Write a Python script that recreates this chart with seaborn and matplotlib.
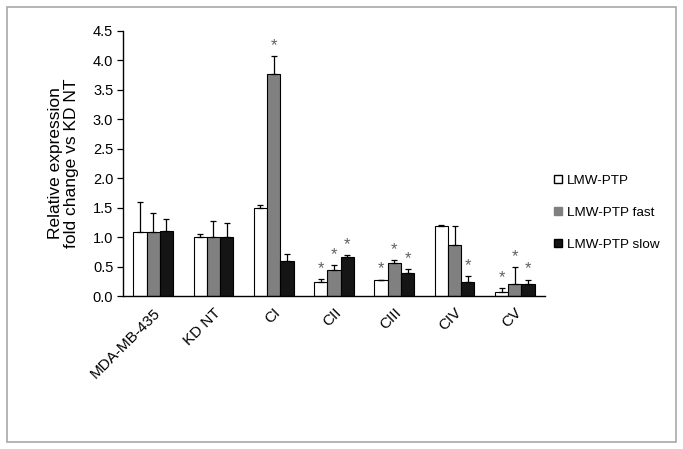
import numpy as np
import pandas as pd
import matplotlib
matplotlib.use('Agg')
import matplotlib.pyplot as plt
import seaborn as sns
from matplotlib.patches import Rectangle
from matplotlib.lines import Line2D

groups = ['MDA-MB-435', 'KD NT', 'CI', 'CII', 'CIII', 'CIV', 'CV']
series = ['LMW-PTP', 'LMW-PTP fast', 'LMW-PTP slow']

vals_wt = [1.09, 1.00, 1.49, 0.23, 0.27, 1.19, 0.06]
vals_fast = [1.09, 1.00, 3.77, 0.44, 0.56, 0.86, 0.20]
vals_slow = [1.10, 1.00, 0.60, 0.66, 0.39, 0.24, 0.21]

err_wt = [0.51, 0.06, 0.06, 0.06, 0.01, 0.01, 0.07]
err_fast = [0.32, 0.27, 0.30, 0.08, 0.05, 0.33, 0.29]
err_slow = [0.20, 0.24, 0.11, 0.04, 0.07, 0.10, 0.07]

star_wt = [0, 0, 0, 1, 1, 0, 1]
star_fast = [0, 0, 1, 1, 1, 0, 1]
star_slow = [0, 0, 0, 1, 1, 1, 1]

df = pd.DataFrame({
    'group': groups * 3,
    'series': [s for s in series for _ in groups],
    'value': vals_wt + vals_fast + vals_slow,
    'err': err_wt + err_fast + err_slow,
    'star': star_wt + star_fast + star_slow,
})

colors = ['#ffffff', '#808080', '#151515']

plt.rcParams['font.family'] = ['Liberation Sans', 'DejaVu Sans']
fig = plt.figure(figsize=(6.83, 4.49), dpi=100)
ax = fig.add_axes([123/683, 1 - 296/449, 422/683, 265/449])

sns.barplot(ax=ax, data=df, x='group', y='value', hue='series', palette=colors,
            errorbar=None, width=0.66, edgecolor='black', linewidth=0.8, legend=False)

# error bars (upper only) and significance stars
for cont, s in zip(ax.containers, series):
    sub = df[df['series'] == s]
    for bar, v, e, st in zip(cont, sub['value'], sub['err'], sub['star']):
        xc = bar.get_x() + bar.get_width() / 2
        ax.errorbar(xc, v, yerr=[[0], [e]], fmt='none', ecolor='black',
                    elinewidth=0.9, capsize=2.5, capthick=0.9)
        if st:
            ax.text(xc, v + e + 0.05, '*', ha='center', va='bottom',
                    color='#606060', fontsize=12)

ax.set_ylim(0, 4.5)
ax.set_xlim(-0.5, 6.5)
ax.set_yticks(np.arange(0, 4.51, 0.5))
ax.set_yticklabels([f'{t:.1f}' for t in np.arange(0, 4.51, 0.5)], fontsize=10.5)
ax.tick_params(axis='y', length=4, width=0.9, direction='out', pad=3)
ax.tick_params(axis='x', length=0, pad=7)
plt.setp(ax.get_xticklabels(), rotation=45, ha='right', rotation_mode='anchor', fontsize=11)
ax.set_xlabel('')
ax.set_ylabel('Relative expression\nfold change vs KD NT', fontsize=12.5, labelpad=10, linespacing=1.1)
for sp in ['top', 'right']:
    ax.spines[sp].set_visible(False)
for sp in ['left', 'bottom']:
    ax.spines[sp].set_linewidth(1.0)

handles = [Line2D([0], [0], marker='s', linestyle='none', markersize=5.5,
                  markerfacecolor=c, markeredgecolor='black' if i != 1 else c,
                  markeredgewidth=1.0)
           for i, c in enumerate(colors)]
fig.legend(handles, series, loc='upper left', bbox_to_anchor=(549/683, 1 - 169/449),
           frameon=False, fontsize=9.7, handlelength=0.6, handletextpad=0.3,
           labelspacing=1.45, borderaxespad=0)

fig.patches.append(Rectangle((7/683, 1 - 442/449), 669/683, 435/449,
                             transform=fig.transFigure, fill=False,
                             edgecolor='#a8a8a8', linewidth=1.2))

fig.savefig('out.png', dpi=100)
